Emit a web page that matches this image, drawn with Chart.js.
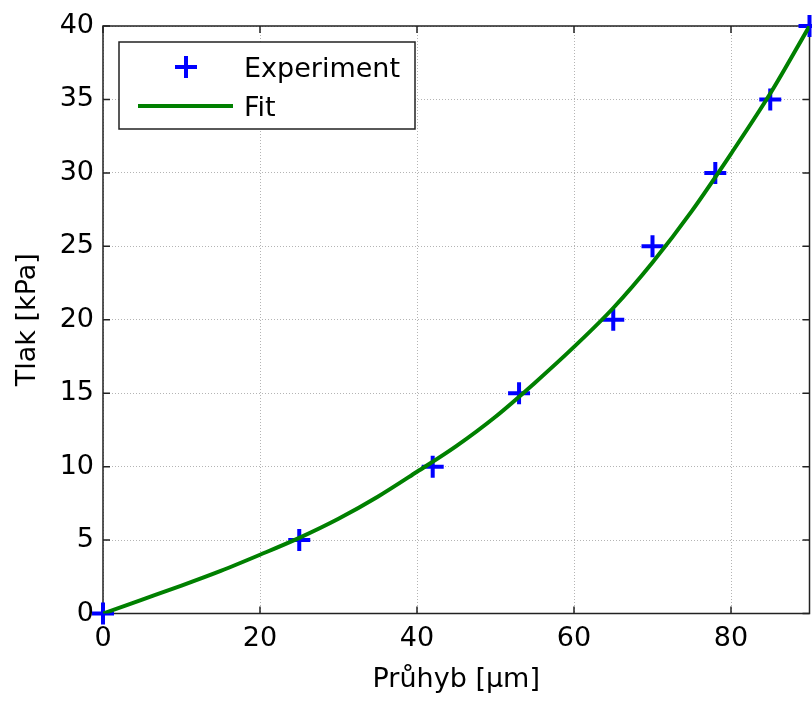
<!DOCTYPE html>
<html>
<head>
<meta charset="utf-8">
<script src="https://cdn.jsdelivr.net/npm/chart.js@4.4.1/dist/chart.umd.min.js"></script>
<style>
html, body { margin: 0; padding: 0; background: #fff; overflow: hidden; }
canvas { display: block; }
</style>
</head>
<body>
<canvas id="tlakChart" width="812" height="702"></canvas>
<script>
// data
var expX = [0, 25, 42, 53, 65, 70, 78, 85, 90];
var expY = [0, 5, 10, 15, 20, 25, 30, 35, 40];
var fitX = [0, 5, 10, 15, 20, 25, 30, 35, 40, 45, 50, 55, 60, 65, 70, 75, 80, 85, 90];
var fitY = [0, 0.95, 1.9, 2.9, 4.0, 5.15, 6.45, 7.95, 9.65, 11.4, 13.4, 15.7, 18.15, 20.8, 23.9, 27.4, 31.3, 35.4, 40];
var xTicks = [0, 20, 40, 60, 80];
var yTicks = [0, 5, 10, 15, 20, 25, 30, 35, 40];

var fontFam = '"DejaVu Sans", sans-serif';
var bigFont = { family: fontFam, size: 27 };

function pts(xs, ys) {
    return xs.map(function (x, i) { return { x: x, y: ys[i] }; });
}

// black frame with inward ticks on all four sides
var framePlugin = {
    id: 'frame',
    beforeDatasetsDraw: function (chart) {
        var ctx = chart.ctx, a = chart.chartArea;
        var sx = chart.scales.x, sy = chart.scales.y;
        var len = 7;
        ctx.save();
        ctx.strokeStyle = '#222';
        ctx.lineWidth = 1.5;
        ctx.strokeRect(a.left, a.top, a.right - a.left, a.bottom - a.top);
        ctx.beginPath();
        xTicks.forEach(function (v) {
            var px = sx.getPixelForValue(v);
            ctx.moveTo(px, a.bottom); ctx.lineTo(px, a.bottom - len);
            ctx.moveTo(px, a.top); ctx.lineTo(px, a.top + len);
        });
        yTicks.forEach(function (v) {
            var py = sy.getPixelForValue(v);
            ctx.moveTo(a.left, py); ctx.lineTo(a.left + len, py);
            ctx.moveTo(a.right, py); ctx.lineTo(a.right - len, py);
        });
        ctx.stroke();
        ctx.restore();
    }
};

// legend box in the upper left, like the matlab one
var boxLegend = {
    id: 'boxLegend',
    afterDatasetsDraw: function (chart) {
        var ctx = chart.ctx;
        var bx = 119, by = 42, bw = 296, bh = 87;
        ctx.save();
        ctx.fillStyle = '#fff';
        ctx.fillRect(bx, by, bw, bh);
        ctx.strokeStyle = '#222';
        ctx.lineWidth = 1.5;
        ctx.strokeRect(bx, by, bw, bh);
        ctx.font = '27px ' + fontFam;
        ctx.textBaseline = 'alphabetic';
        ctx.textAlign = 'left';
        chart.data.datasets.forEach(function (ds, i) {
            var cy = i === 0 ? 67 : 106;
            ctx.strokeStyle = ds.borderColor;
            ctx.lineWidth = ds.borderWidth;
            ctx.beginPath();
            if (ds.showLine) {
                ctx.moveTo(138, cy); ctx.lineTo(233, cy);
            } else {
                ctx.moveTo(186 - 11, cy); ctx.lineTo(186 + 11, cy);
                ctx.moveTo(186, cy - 11); ctx.lineTo(186, cy + 11);
            }
            ctx.stroke();
            ctx.fillStyle = '#000';
            ctx.fillText(ds.label, 244, cy + 10);
        });
        ctx.restore();
    }
};

var ctxT = document.getElementById('tlakChart').getContext('2d');
var tlakChart = new Chart(ctxT, {
    type: 'scatter',
    data: {
        datasets: [{
            label: 'Experiment',
            data: pts(expX, expY),
            showLine: false,
            pointStyle: 'cross',
            pointRadius: 11,
            pointHoverRadius: 11,
            borderColor: '#0000ff',
            backgroundColor: '#0000ff',
            borderWidth: 4,
            pointBorderWidth: 4,
            clip: false,
            order: 1
        }, {
            label: 'Fit',
            data: pts(fitX, fitY),
            showLine: true,
            pointRadius: 0,
            borderColor: '#008000',
            backgroundColor: '#008000',
            borderWidth: 4,
            cubicInterpolationMode: 'monotone',
            order: 0
        }]
    },
    options: {
        responsive: false,
        animation: false,
        layout: { autoPadding: false, padding: { top: 26, right: 2.5, left: 0, bottom: 0 } },
        plugins: {
            legend: { display: false },
            tooltip: { enabled: false }
        },
        scales: {
            x: {
                type: 'linear',
                min: 0,
                max: 90,
                afterBuildTicks: function (s) { s.ticks = xTicks.map(function (v) { return { value: v }; }); },
                afterFit: function (s) { s.height = 88.5; s.paddingLeft = 0; s.paddingRight = 0; },
                grid: { color: '#b4b4b4', lineWidth: 1, drawTicks: false },
                border: { display: false, dash: [1, 2] },
                ticks: { padding: 9, color: '#000', font: bigFont, maxRotation: 0 },
                title: { display: true, text: 'Průhyb [μm]', color: '#000', font: bigFont, padding: { top: 0, bottom: 6 } }
            },
            y: {
                type: 'linear',
                min: 0,
                max: 40,
                afterBuildTicks: function (s) { s.ticks = yTicks.map(function (v) { return { value: v }; }); },
                afterFit: function (s) { s.width = 103; s.paddingTop = 0; s.paddingBottom = 0; },
                grid: { color: '#b4b4b4', lineWidth: 1, drawTicks: false },
                border: { display: false, dash: [1, 2] },
                ticks: { padding: 9, color: '#000', font: bigFont },
                title: { display: true, text: 'Tlak [kPa]', color: '#000', font: bigFont, padding: { top: 12, bottom: 0 } }
            }
        }
    },
    plugins: [framePlugin, boxLegend]
});
</script>
</body>
</html>
